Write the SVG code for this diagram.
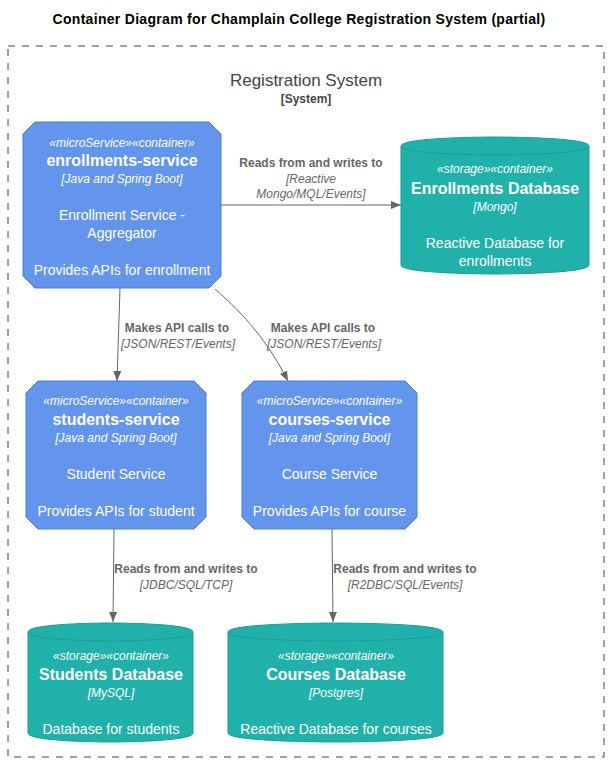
<svg xmlns="http://www.w3.org/2000/svg" width="610" height="762" viewBox="0 0 610 762">
<defs>
<style>
text{font-family:"Liberation Sans",Arial,sans-serif;text-anchor:middle}
.title{font-size:14px;font-weight:bold;fill:#000;letter-spacing:0.3px}
.bnd{fill:none;stroke:#444;stroke-width:1;stroke-dasharray:7 7}
.bname{font-size:17px;fill:#444}
.btype{font-size:12px;font-weight:bold;fill:#444}
.svc{fill:#6495ED;stroke:#4A7ED6;stroke-width:1}
.db{fill:#20B2AA;stroke:#1A9C95;stroke-width:1}
.st{font-size:12px;font-style:italic;fill:#fff}
.nm{font-size:16px;font-weight:bold;fill:#fff}
.tc{font-size:12px;font-style:italic;fill:#fff}
.ds{font-size:14px;fill:#fff}
.ln{fill:none;stroke:#666;stroke-width:1}
.el{font-size:12px;font-weight:bold;fill:#666}
.et{font-size:12px;font-style:italic;fill:#666}
</style>
<marker id="ah" viewBox="0 0 10 8" refX="10" refY="4" markerWidth="10" markerHeight="8" markerUnits="userSpaceOnUse" orient="auto">
<path d="M0,0 L10,4 L0,8 Z" fill="#666"/>
</marker>
</defs>
<rect width="610" height="762" fill="#fff"/>
<text class="title" x="299" y="24">Container Diagram for Champlain College Registration System (partial)</text>
<g id="registration-system">
<rect class="bnd" x="8" y="46" width="596" height="711"/>
<text class="bname" x="306" y="86">Registration System</text>
<text class="btype" x="306" y="103">[System]</text>
</g>
<g id="connectors">
<path class="ln" d="M221,205 L401,205" marker-end="url(#ah)"/>
<text class="el" x="311" y="167">Reads from and writes to</text>
<text class="et" x="311" y="183">[Reactive</text>
<text class="et" x="311" y="198">Mongo/MQL/Events]</text>
<path class="ln" d="M120,288 L117,381" marker-end="url(#ah)"/>
<text class="el" x="177" y="332">Makes API calls to</text>
<text class="et" x="178" y="348">[JSON/REST/Events]</text>
<path class="ln" d="M215,289 C245,315 268,342 288,381" marker-end="url(#ah)"/>
<text class="el" x="323" y="332">Makes API calls to</text>
<text class="et" x="324" y="348">[JSON/REST/Events]</text>
<path class="ln" d="M114,529 L113,622" marker-end="url(#ah)"/>
<text class="el" x="186" y="573">Reads from and writes to</text>
<text class="et" x="186" y="589">[JDBC/SQL/TCP]</text>
<path class="ln" d="M332,529 L333,622" marker-end="url(#ah)"/>
<text class="el" x="405" y="573">Reads from and writes to</text>
<text class="et" x="405" y="589">[R2DBC/SQL/Events]</text>
</g>
<g id="enrollments-service">
<path class="svc" d="M35,122 L209,122 L221,134 L221,276 L209,288 L35,288 L23,276 L23,134 Z"/>
<text class="st" x="122" y="147">«microService»«container»</text>
<text class="nm" x="122" y="166">enrollments-service</text>
<text class="tc" x="122" y="183">[Java and Spring Boot]</text>
<text class="ds" x="122" y="220">Enrollment Service -</text>
<text class="ds" x="122" y="238">Aggregator</text>
<text class="ds" x="122" y="275">Provides APIs for enrollment</text>
</g>
<g id="enrollments-database">
<path class="db" d="M401,146 C401,137 495,137 495,137 C495,137 589,137 589,146 L589,265 C589,274 495,274 495,274 C495,274 401,274 401,265 Z"/>
<path class="db" d="M401,146 C401,155 495,155 495,155 C495,155 589,155 589,146" fill="none"/>
<text class="st" x="495" y="173">«storage»«container»</text>
<text class="nm" x="495" y="194">Enrollments Database</text>
<text class="tc" x="495" y="211">[Mongo]</text>
<text class="ds" x="495" y="248">Reactive Database for</text>
<text class="ds" x="495" y="266">enrollments</text>
</g>
<g id="students-service">
<path class="svc" d="M38,381 L194,381 L206,393 L206,517 L194,529 L38,529 L26,517 L26,393 Z"/>
<text class="st" x="116" y="405">«microService»«container»</text>
<text class="nm" x="116" y="425">students-service</text>
<text class="tc" x="116" y="442">[Java and Spring Boot]</text>
<text class="ds" x="116" y="479">Student Service</text>
<text class="ds" x="116" y="516">Provides APIs for student</text>
</g>
<g id="courses-service">
<path class="svc" d="M254,381 L405,381 L417,393 L417,517 L405,529 L254,529 L242,517 L242,393 Z"/>
<text class="st" x="329.5" y="405">«microService»«container»</text>
<text class="nm" x="329.5" y="425">courses-service</text>
<text class="tc" x="329.5" y="442">[Java and Spring Boot]</text>
<text class="ds" x="329.5" y="479">Course Service</text>
<text class="ds" x="329.5" y="516">Provides APIs for course</text>
</g>
<g id="students-database">
<path class="db" d="M28,632 C28,623 110.5,623 110.5,623 C110.5,623 193,623 193,632 L193,733 C193,742 110.5,742 110.5,742 C110.5,742 28,742 28,733 Z"/>
<path class="db" d="M28,632 C28,641 110.5,641 110.5,641 C110.5,641 193,641 193,632" fill="none"/>
<text class="st" x="111" y="660">«storage»«container»</text>
<text class="nm" x="111" y="680">Students Database</text>
<text class="tc" x="111" y="697">[MySQL]</text>
<text class="ds" x="111" y="734">Database for students</text>
</g>
<g id="courses-database">
<path class="db" d="M228,632 C228,623 335.5,623 335.5,623 C335.5,623 443,623 443,632 L443,733 C443,742 335.5,742 335.5,742 C335.5,742 228,742 228,733 Z"/>
<path class="db" d="M228,632 C228,641 335.5,641 335.5,641 C335.5,641 443,641 443,632" fill="none"/>
<text class="st" x="336" y="660">«storage»«container»</text>
<text class="nm" x="336" y="680">Courses Database</text>
<text class="tc" x="336" y="697">[Postgres]</text>
<text class="ds" x="336" y="734">Reactive Database for courses</text>
</g>
</svg>
